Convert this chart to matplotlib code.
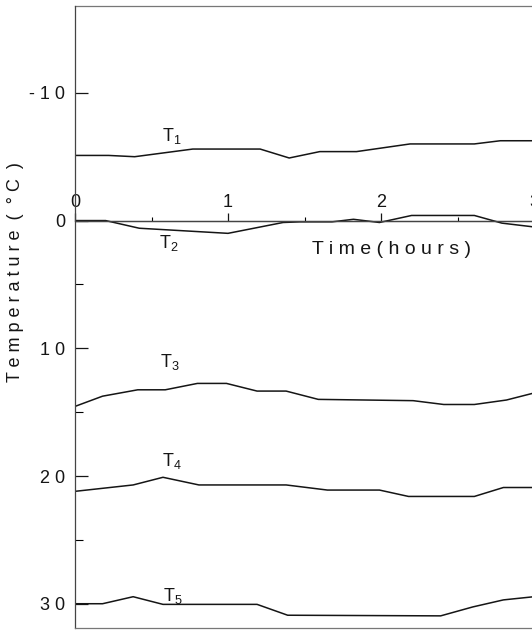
import matplotlib.pyplot as plt
from matplotlib.ticker import FixedLocator

plt.rcParams['font.family'] = ['Liberation Sans', 'DejaVu Sans']
plt.rcParams['mathtext.fontset'] = 'custom'
plt.rcParams['mathtext.rm'] = 'Liberation Sans'
plt.rcParams['mathtext.it'] = 'Liberation Sans'

# readings (time in hours, temperature in deg C)
t1 = [0, 0.22, 0.39, 0.77, 1.21, 1.40, 1.60, 1.84, 2.19, 2.61, 2.78, 3.0]
T1 = [-5.1, -5.1, -5.0, -5.6, -5.6, -4.9, -5.4, -5.4, -6.0, -6.0, -6.25, -6.25]

t2 = [0, 0.2, 0.42, 1.0, 1.36, 1.47, 1.68, 1.82, 1.99, 2.20, 2.61, 2.79, 3.0]
T2 = [0, 0, 0.6, 1.0, 0.15, 0.1, 0.1, -0.1, 0.15, -0.4, -0.4, 0.2, 0.5]

t3 = [0, 0.18, 0.41, 0.59, 0.80, 0.99, 1.19, 1.38, 1.59, 2.21, 2.41, 2.61, 2.82, 3.0]
T3 = [14.55, 13.75, 13.25, 13.25, 12.75, 12.75, 13.35, 13.35, 14.0, 14.1, 14.4, 14.4, 14.05, 13.5]

t4 = [0, 0.38, 0.575, 0.81, 1.38, 1.65, 1.99, 2.18, 2.61, 2.80, 3.0]
T4 = [21.2, 20.7, 20.1, 20.7, 20.7, 21.1, 21.1, 21.6, 21.6, 20.9, 20.9]

t5 = [0, 0.18, 0.38, 0.575, 1.19, 1.39, 2.39, 2.60, 2.80, 3.0]
T5 = [30.0, 30.0, 29.45, 30.05, 30.05, 30.9, 30.95, 30.25, 29.7, 29.45]

series = [(t1, T1), (t2, T2), (t3, T3), (t4, T4), (t5, T5)]
names = ["T$_1$", "T$_2$", "T$_3$", "T$_4$", "T$_5$"]
name_pos = [(0.63, -6.6), (0.61, 1.75), (0.62, 11.1), (0.63, 18.8), (0.64, 29.4)]

yticks = [-10, 0, 10, 20, 30]
ylabels = ["- 1 0", "0", "1 0", "2 0", "3 0"]
xticks = [0, 1, 2, 3]
xlabels = ["0", "1", "2", "3"]

ink = '#151515'
fig = plt.figure(figsize=(5.32, 6.32), dpi=100)
ax = fig.add_axes([75 / 532, 4 / 632, 3.2 * 153 / 532, 622 / 632])

for (t, T) in series:
    ax.plot(t, T, color=ink, lw=1.1)
for s, (x, y) in zip(names, name_pos):
    ax.text(x, y, s, ha='center', va='center', fontsize=13, color=ink)

ax.set_xlim(0, 3.2)
ax.set_ylim(31.9, -16.8)

# x axis drawn along the 0 degC line, labels above it
ax.axhline(0, color='#444444', lw=0.9)
ax.spines['top'].set_position(('data', 0))
ax.spines['top'].set_color('#444444')
ax.spines['top'].set_linewidth(0.9)
ax.spines['right'].set_visible(False)
ax.spines['left'].set_color('#444444')
ax.spines['bottom'].set_color('#777777')
ax.spines['left'].set_linewidth(0.9)
ax.spines['bottom'].set_linewidth(0.9)
ax.plot([0, 1], [1, 1], transform=ax.transAxes, color='#777777', lw=0.9, clip_on=False)

ax.xaxis.set_ticks_position('top')
ax.set_xticks(xticks)
ax.set_xticklabels(xlabels)
ax.xaxis.set_minor_locator(FixedLocator([0.5, 1.5, 2.5]))
ax.tick_params(axis='x', which='major', direction='out', length=6, width=0.9,
               pad=1, labelsize=13, colors=ink)
ax.tick_params(axis='x', which='minor', direction='out', length=3, width=0.8)

ax.set_yticks(yticks)
ax.set_yticklabels(ylabels)
ax.yaxis.set_minor_locator(FixedLocator([5, 15, 25]))
ax.tick_params(axis='y', which='major', direction='in', length=9, width=0.9,
               pad=7, labelsize=13, colors=ink)
ax.tick_params(axis='y', which='minor', direction='in', length=6, width=0.8)

fig.text(392 / 532, 1 - 250 / 632, "T i m e ( h o u r s )", ha='center', va='center',
         fontsize=14, color=ink)
fig.text(16 / 532, 1 - 272 / 632, "T e m p e r a t u r e  (  \u00b0 C  )", ha='center',
         va='center', rotation=90, fontsize=13, color=ink)

fig.savefig('out.png', dpi=100)
